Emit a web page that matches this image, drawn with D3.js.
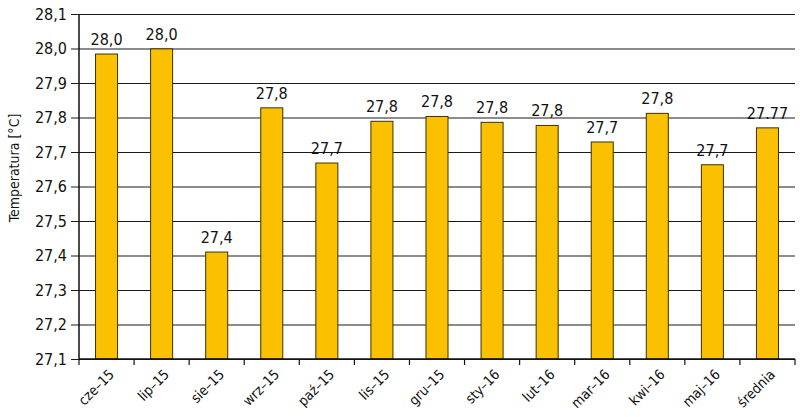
<!DOCTYPE html>
<html>
<head>
<meta charset="utf-8">
<script src="https://cdn.jsdelivr.net/npm/d3@7"></script>
<style>
  html, body { margin: 0; padding: 0; background: #fff; overflow: hidden; }
  svg { display: block; }
  text { font-family: "Liberation Sans Narrow", "Arial Narrow", "DejaVu Sans Condensed", sans-serif; fill: #111; }
</style>
</head>
<body>
<div id="chart"></div>
<script>
// categories and values
var categories = ["cze–15", "lip–15", "sie–15", "wrz–15", "paź–15", "lis–15", "gru–15",
                  "sty–16", "lut–16", "mar–16", "kwi–16", "maj–16", "średnia"];
var values = [27.984, 27.999, 27.410, 27.828, 27.668, 27.789, 27.803,
              27.786, 27.777, 27.729, 27.812, 27.663, 27.770];
var valueLabels = ["28,0", "28,0", "27,4", "27,8", "27,7", "27,8", "27,8",
                   "27,8", "27,8", "27,7", "27,8", "27,7", "27.77"];
var yTicks = [27.1, 27.2, 27.3, 27.4, 27.5, 27.6, 27.7, 27.8, 27.9, 28.0, 28.1];

var width = 800, height = 417,
    margin = {top: 14, right: 5, bottom: 58, left: 79};
var innerWidth = width - margin.left - margin.right,
    innerHeight = height - margin.top - margin.bottom;

var svg = d3.select("#chart").append("svg")
    .attr("width", width)
    .attr("height", height);

var g = svg.append("g")
    .attr("transform", "translate(" + margin.left + "," + margin.top + ")");

var x = d3.scaleBand()
    .domain(categories)
    .range([0, innerWidth])
    .paddingInner(0.6)
    .paddingOuter(0.3);

var y = d3.scaleLinear()
    .domain([27.1, 28.1])
    .range([innerHeight, 0]);

// gridlines + y ticks
var yAxis = g.append("g")
    .call(d3.axisLeft(y)
        .tickValues(yTicks)
        .tickSize(-innerWidth)
        .tickPadding(12)
        .tickFormat(function(d) { return d3.format(".1f")(d).replace(".", ","); }));
yAxis.select(".domain").remove();
yAxis.selectAll(".tick line")
    .attr("x1", -8)
    .attr("stroke", "#1a1a1a")
    .attr("stroke-width", 1.2);
yAxis.selectAll(".tick text")
    .style("font-size", "16px");

// bars
g.selectAll(".bar")
    .data(values)
    .enter().append("rect")
    .attr("class", "bar")
    .attr("x", function(d, i) { return x(categories[i]); })
    .attr("width", x.bandwidth())
    .attr("y", function(d) { return y(d); })
    .attr("height", function(d) { return innerHeight - y(d); })
    .attr("fill", "#FBC100")
    .attr("stroke", "#3a3200")
    .attr("stroke-width", 1);

// value labels
g.selectAll(".lbl")
    .data(values)
    .enter().append("text")
    .attr("class", "lbl")
    .attr("x", function(d, i) { return x(categories[i]) + x.bandwidth() / 2; })
    .attr("y", function(d) { return y(d) - 9; })
    .attr("text-anchor", "middle")
    .style("font-size", "16px")
    .text(function(d, i) { return valueLabels[i]; });

// x axis
var step = x.step();
var xAxis = g.append("g")
    .attr("transform", "translate(0," + innerHeight + ")");
xAxis.append("line")
    .attr("x1", 0).attr("x2", innerWidth)
    .attr("stroke", "#111").attr("stroke-width", 1.5);
xAxis.selectAll(".xt")
    .data(d3.range(categories.length + 1))
    .enter().append("line")
    .attr("x1", function(i) { return i * step; })
    .attr("x2", function(i) { return i * step; })
    .attr("y1", 0).attr("y2", 6)
    .attr("stroke", "#111").attr("stroke-width", 1.2);
xAxis.selectAll(".xl")
    .data(categories)
    .enter().append("g")
    .attr("transform", function(d) {
        return "translate(" + (x(d) + x.bandwidth() / 2 + 1) + ",9) rotate(-45)";
    })
    .append("text")
    .attr("text-anchor", "end")
    .attr("dy", "0.75em")
    .style("font-size", "14px")
    .text(function(d) { return d; });

// y axis line
g.append("line")
    .attr("x1", 0).attr("x2", 0)
    .attr("y1", 0).attr("y2", innerHeight)
    .attr("stroke", "#111").attr("stroke-width", 1.5);

// y axis title
svg.append("g")
    .attr("transform", "translate(19,168) rotate(-90)")
    .append("text")
    .attr("text-anchor", "middle")
    .style("font-size", "14px")
    .text("Temperatura [°C]");
</script>
</body>
</html>
